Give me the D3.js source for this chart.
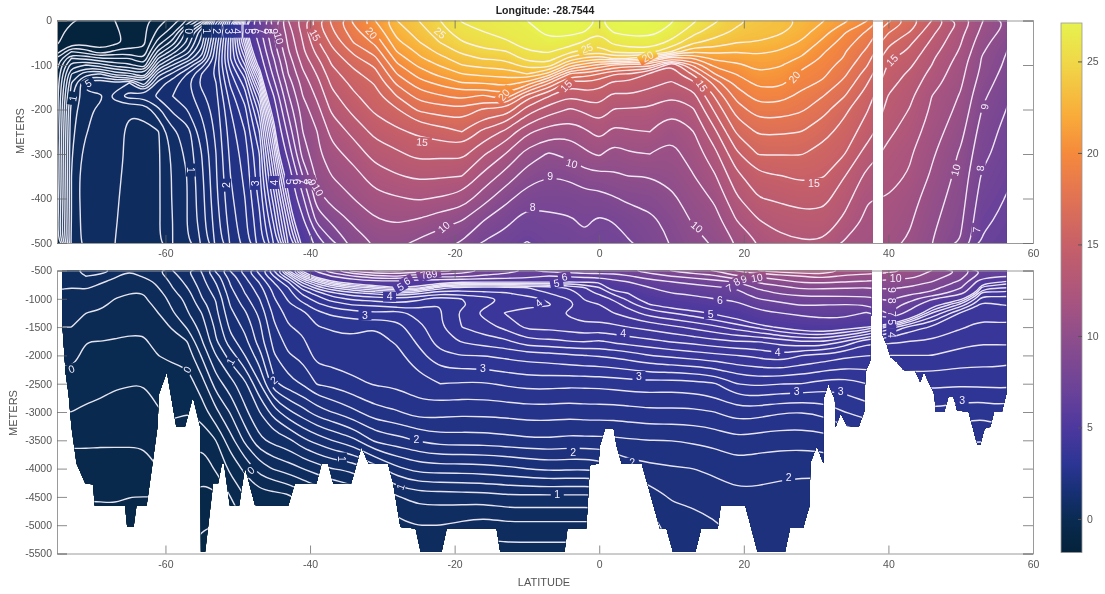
<!DOCTYPE html>
<html>
<head>
<meta charset="utf-8">
<script src="https://cdn.jsdelivr.net/npm/d3@7/dist/d3.min.js"></script>
<style>
  html, body { margin: 0; background: #fff; }
  svg { display: block; filter: blur(0.45px); font-family: "Liberation Sans", Arial, sans-serif; }
</style>
</head>
<body>
<svg id="chart" width="1105" height="594"></svg>
<script>
// section columns, one list of temperatures per latitude
const lats = [-75,-73,-71,-69,-67,-65,-63,-61,-59,-57,-55,-53,-51,-49,-47,-45,-43,-41,-39,-37,-34,-31,-28,-25,-22,-19,-16,-13,-10,-7,-4,-2,0,2,4,7,10,13,16,19,22,25,28,31,34,37,40,43,46,50,53,57];

const upperDepths = [0,25,50,70,85,100,120,140,170,200,250,300,350,400,450,500];
const upperTemp = [
  [-1.9,-1.85,-1.82,-1.7,-1.4,-1.25,-1.2,-1.15,-1.1,-1.1,-1.05,-1,-1,-.95,-.9,-.85],
  [-1.82,-1.75,-1.7,-1.2,-.8,-.5,-.2,0,.15,.3,.35,.38,.4,.4,.4,.45],
  [-1.75,-1.72,-1.7,-1.3,-.85,-.4,.15,.7,.55,.55,.58,.68,.75,.75,.72,.68],
  [-1.7,-1.7,-1.7,-1.55,-1,-.5,.2,.8,.55,.65,.74,.77,.76,.74,.7,.66],
  [-1.6,-1.65,-1.65,-1.35,-1,-.7,-.1,.6,.9,.62,.68,.72,.68,.65,.63,.6],
  [-1.5,-1.5,-1.55,-1.3,-1,-.75,-.15,.8,1.1,.62,.55,.52,.5,.48,.46,.42],
  [-1.45,-1.45,-1.45,-1.35,-1.2,-.95,-.4,.25,1.05,.65,.55,.52,.5,.49,.48,.47],
  [-1.3,-1.15,-.9,-.55,-.2,.15,.7,1.1,1.25,.95,.58,.57,.57,.57,.57,.58],
  [-1.1,-.9,-.5,-.1,.25,.6,1.05,1.3,1.4,1.25,.95,.85,.82,.82,.8,.8],
  [-.8,-.1,.05,.3,.6,1,1.4,1.55,1.5,1.4,1.1,1.05,1,1,1,.98],
  [-.3,.55,.7,.9,1.1,1.5,1.8,1.85,1.75,1.65,1.5,1.4,1.35,1.32,1.3,1.22],
  [1.3,1.7,1.85,1.95,2,2.05,2.05,2,1.95,1.9,1.85,1.8,1.78,1.75,1.7,1.65],
  [2.6,2.9,3,3,3,2.9,2.75,2.65,2.5,2.4,2.3,2.25,2.2,2.15,2.1,2.02],
  [4.6,4.6,4.3,4,3.8,3.6,3.3,3.1,2.9,2.75,2.6,2.5,2.45,2.4,2.35,2.3],
  [7,6.6,6.2,5.8,5.5,5.2,4.7,4.3,3.8,3.5,3.2,3,2.95,2.85,2.75,2.7],
  [9.7,9.1,8.7,8.4,8,7.7,7.3,6.8,6,5.4,4.7,4.3,4,3.7,3.45,3.2],
  [12,11.5,11.2,10.9,10.6,10.3,10,9.5,8.9,8.3,7.3,6.3,5.3,4.9,4.5,4.2],
  [13.6,13.3,13,12.8,12.5,12.2,11.8,11.4,11,10.5,10,9.4,8,6.8,5.8,5.1],
  [15.8,15.4,14.8,14.3,13.9,13.5,13.1,12.7,12.2,11.7,11,10.8,10.3,9.6,8.3,6.3],
  [17.2,16.8,16.2,15.7,15.3,15,14.6,14.2,13.7,13.2,12.3,11.6,11,10.4,9.2,7.8],
  [19.2,18.6,18,17.2,16.7,16.2,15.7,15.3,14.8,14.3,13.3,12.4,11.6,11,10.2,9.4],
  [21,20.1,19.2,18.4,17.8,17.2,16.6,16.1,15.6,15.2,14.3,13.4,12.5,11.7,10.9,10.1],
  [23,22.4,21.7,21,20.4,19.8,19,18.2,17,15.9,14.8,13.8,12.9,11.9,11.1,10.2],
  [24,23.5,22.9,22.2,21.8,21.2,20.4,19.6,18.4,17.2,15.2,14.3,13.2,12.1,10.9,9.8],
  [25,24.6,24,23.3,22.7,22.1,21.3,20.3,18.9,17.5,15.5,14.2,13.1,11.9,10.4,9.3],
  [26.1,25.6,24.9,24.2,23.6,23,22,21,19.3,17.8,16,14.3,13,11.6,10,8.9],
  [26.4,26,25.4,24.8,24.1,23.35,22.3,21,18.8,16.8,14.7,13.1,11.7,10.4,9,7.9],
  [26.7,26.4,25.8,24.9,24.2,23.5,22.4,21.4,19.7,16.8,13.8,12,10.6,9.3,8.3,7.5],
  [27,26.7,26.4,25.9,25.3,24.5,23,20.7,16.5,14.6,12.2,10.6,9.5,8.45,7.5,6.95],
  [27.4,27.2,26.8,26.1,25.5,24.7,21.7,18.2,15.05,13.5,11.5,9.9,9,8.3,7.8,7.4],
  [27.5,27.3,26.5,25.2,23.6,21.4,17.8,15.4,14.05,12.9,11.3,10.3,9.2,8.35,7.9,7.5],
  [27.3,27,25.8,24.6,22.8,20.6,17.6,15.8,14.5,13.2,11.8,10.8,9.6,8.6,8.15,7.8],
  [26.95,26.1,25.4,24.4,22.3,19.7,17,15.5,14.45,13.7,12.4,11.15,9.7,8.6,7.85,7.7],
  [27.4,27.1,26.2,25.2,23.2,19,16,14.8,13.7,12.95,11.7,10.5,9.85,8.9,8.05,7.55],
  [27.5,27.3,26.5,25.5,23,18.5,16,14.8,13.9,12.9,11.9,10.9,10,9.2,8.35,7.9],
  [27.5,27.3,26.6,25.5,22,18.6,14.9,14.3,13.6,12.9,12,11,10,9.3,8.8,8.5],
  [27.1,26.7,25.7,24,19,15,14.4,13.9,13,12.15,11.2,10.7,10.3,9.8,9.3,9.05],
  [26.2,25.4,24.1,22,20,18.2,16.2,14.7,13.6,12.9,11.95,11.4,10.95,10.5,10.1,9.7],
  [25.2,24.4,23.7,22.3,21.3,20.3,19,17.4,16.1,15.2,13.8,12.7,11.9,11.15,10.6,10.1],
  [24.2,23.85,23,22,21.4,20.8,20.05,19.35,18.35,17.5,16.15,14.8,13.7,12.85,12,11.1],
  [23.8,23.4,22.95,22.2,21.75,21.3,20.9,20.3,19.45,18.55,17.15,16.05,14.8,13.95,12.95,12],
  [23.4,23.2,22.5,21.9,21.5,21.1,20.65,20.25,19.4,18.5,17.15,16.05,14.95,14.15,13.4,12.7],
  [22.9,22.45,21.85,21.3,20.85,20.3,19.75,19.35,18.7,18.15,17,16.05,15.2,14.4,13.6,12.9],
  [22.05,21.4,20.7,20.1,19.8,19.5,19.2,18.85,18,17.35,16.35,15.6,15.05,14.3,13.65,12.9],
  [21.2,20.1,19.45,19.05,18.9,18.55,18.15,17.7,17,16.2,15.6,15,14,13.4,12.75,11.85],
  [20.1,18.9,18.3,17.8,17.45,17.1,16.55,16.1,15.5,15.1,14.5,13.55,12.75,12.05,11.8,11.55],
  [18.2,17.1,16.25,15.7,15.2,14.9,14.6,14.35,13.95,13.7,13.2,12.7,12.3,11.95,11.65,11.3],
  [16.8,16,15.15,14.75,14.45,14.15,13.8,13.55,13.2,12.95,12.55,12.1,11.9,11.4,11.1,10.85],
  [15,14.3,13.8,13.4,13.15,13,12.7,12.45,12,11.85,11.5,11.15,10.85,10.5,10.25,10],
  [12.9,12.3,12.05,11.85,11.65,11.45,11.3,11.15,10.9,10.7,10.3,9.85,9.65,9.45,9.2,8.9],
  [11.05,10.75,10.35,10.1,9.9,9.85,9.7,9.5,9.2,8.95,8.55,8.3,7.85,7.5,7.15,6.9],
  [9.7,9.4,8.95,8.8,8.7,8.6,8.4,8.25,7.98,7.8,7.5,7.3,7.05,6.85,6.75,6.65]
];

const lowerDepths = [500,600,700,800,900,1000,1100,1250,1500,1750,2000,2500,3000,3500,4000,4500,5000,5500];
const lowerTemp = [
  [.5,.48,.45,.42,.38,.34,.3,.26,.2,.12,.03,-.06,-.2,-.36,-.5,-.6,-.7,-.8],
  [.55,.5,.45,.4,.37,.33,.3,.27,.2,.13,.04,-.05,-.2,-.36,-.5,-.6,-.7,-.8],
  [.68,.6,.5,.42,.36,.3,.26,.2,.1,0,-.03,-.1,-.24,-.38,-.45,-.58,-.7,-.8],
  [.66,.57,.42,.36,.3,.27,.23,.18,.1,0,-.03,-.12,-.27,-.38,-.46,-.58,-.7,-.8],
  [.58,.42,.36,.3,.25,.2,.17,.12,.05,-.01,-.05,-.18,-.27,-.38,-.46,-.57,-.7,-.8],
  [.41,.34,.28,.22,.2,.17,.14,.1,.03,-.02,-.06,-.19,-.28,-.38,-.46,-.6,-.7,-.8],
  [.47,.42,.32,.26,.2,.18,.14,.1,.03,-.02,-.06,-.2,-.28,-.38,-.46,-.6,-.7,-.8],
  [.58,.5,.44,.4,.33,.28,.25,.2,.12,.06,0,-.1,-.22,-.33,-.4,-.6,-.7,-.8],
  [.8,.72,.65,.6,.55,.48,.44,.38,.22,.12,.02,-.05,-.15,-.3,-.4,-.6,-.7,-.8],
  [.98,.92,.86,.8,.72,.66,.63,.58,.42,.2,.08,-.1,-.2,-.33,-.42,-.6,-.7,-.8],
  [1.22,1.16,1.12,1.07,1.03,.98,.9,.8,.68,.58,.42,.1,-.1,-.37,-.52,-.68,-.79,-.85],
  [1.65,1.5,1.42,1.35,1.28,1.22,1.19,1.15,1.05,.98,.8,.5,.15,-.2,-.37,-.65,-.8,-.85],
  [2.02,1.9,1.83,1.78,1.72,1.67,1.62,1.55,1.45,1.32,1.1,.72,.42,.12,-.15,-.4,-.6,-.8],
  [2.3,2.2,2.12,2.05,2,1.93,1.87,1.77,1.65,1.54,1.4,.95,.75,.45,.05,-.2,-.4,-.6],
  [2.7,2.55,2.42,2.33,2.26,2.2,2.14,2.05,1.95,1.9,1.72,1.38,1,.75,.28,-.1,-.3,-.5],
  [3.2,3,2.82,2.7,2.63,2.58,2.53,2.45,2.36,2.27,2.18,1.95,1.3,.87,.42,-.1,-.3,-.5],
  [4.2,3.6,3.2,3,2.9,2.83,2.76,2.68,2.58,2.48,2.38,2.12,1.55,.95,.5,-.05,-.2,-.4],
  [5.1,4.5,3.9,3.5,3.25,3.1,2.95,2.75,2.65,2.57,2.46,2.22,1.72,1.15,.6,.1,-.1,-.3],
  [6.3,5.2,4.4,3.9,3.5,3.3,3.15,2.95,2.79,2.74,2.68,2.42,1.9,1.28,.7,.2,0,-.2],
  [7.8,6,4.9,4.2,3.75,3.5,3.3,3.05,2.82,2.75,2.7,2.45,2,1.4,.8,.3,.1,-.1],
  [9.4,7,5.3,4.5,3.95,3.65,3.42,3.12,2.85,2.77,2.72,2.55,2.15,1.55,.85,.4,.2,0],
  [10.1,7.8,5.6,4.7,4.05,3.7,3.45,3.18,2.8,2.75,2.7,2.62,2.33,1.85,1.1,.6,.3,.1],
  [10.2,8,5.7,5,4.2,3.75,3.55,3.1,2.93,2.82,2.74,2.64,2.38,1.92,1.35,.78,.55,.4],
  [9.8,7.2,5.4,4.9,4.05,3.65,3.5,3.3,3.12,3.04,2.93,2.72,2.5,2.02,1.48,.88,.6,.4],
  [9.3,7.3,5.2,4.3,3.85,3.5,3.4,3.38,3.38,3.3,3.15,2.8,2.47,2.1,1.5,.88,.6,.4],
  [8.9,7.2,5.05,4.15,3.9,3.6,3.55,3.65,3.6,3.42,3.2,2.78,2.45,2.1,1.5,.9,.55,.35],
  [7.9,6.8,5.05,4.15,3.95,3.7,3.75,3.85,3.72,3.5,3.2,2.78,2.46,2.1,1.52,.9,.5,.3],
  [7.5,6.6,5.05,4.15,3.98,3.85,3.9,4.01,3.85,3.55,3.25,2.83,2.47,2.13,1.55,.95,.55,.3],
  [6.95,6.4,5.05,4.2,4.1,3.9,3.95,4.08,4.05,3.75,3.3,2.87,2.5,2.16,1.6,.95,.55,.3],
  [7.4,5.95,5.05,4.3,4.2,4.05,3.98,4.08,4.05,3.75,3.32,2.87,2.5,2.17,1.65,.95,.55,.3],
  [7.5,6.15,5,4.45,4.3,4.22,4.15,4.25,4.1,3.8,3.38,2.85,2.48,2.14,1.63,.95,.55,.3],
  [7.8,6.3,5.05,4.6,4.5,4.42,4.35,4.3,4.15,3.82,3.4,2.86,2.5,2.15,1.63,.95,.55,.3],
  [7.7,6.4,5,4.8,4.65,4.45,4.4,4.33,4.12,3.78,3.42,2.86,2.5,2.15,1.65,.95,.55,.3],
  [7.55,6.6,5.7,5.2,4.85,4.65,4.5,4.4,4.15,3.85,3.45,2.88,2.5,2.16,1.8,1.2,.8,.5],
  [7.9,6.9,6,5.4,5,4.85,4.7,4.5,4.2,3.9,3.5,2.9,2.52,2.18,1.9,1.45,1,.8],
  [8.5,7.5,6.6,6,5.6,5.2,5,4.7,4.27,3.95,3.6,2.92,2.55,2.2,1.95,1.7,1.5,1.3],
  [9.05,8,7,6.4,6,5.5,5.15,4.8,4.35,4.02,3.65,2.9,2.55,2.2,1.98,1.82,1.7,1.6],
  [9.7,8.4,7.3,6.6,6.2,5.7,5.3,4.9,4.45,4.07,3.7,2.93,2.55,2.23,2,1.85,1.72,1.65],
  [10.1,8.8,7.6,6.9,6.4,6,5.5,5.05,4.55,4.15,3.75,2.98,2.6,2.26,2.04,1.9,1.78,1.7],
  [11.1,9.9,8.1,7.1,6.7,6.2,5.8,5.2,4.7,4.2,3.8,3.2,2.7,2.35,2.1,1.95,1.85,1.8],
  [12,10.2,9.2,8.2,7.6,7,6.4,5.75,4.85,4.2,3.85,3.25,2.68,2.3,2.08,1.95,1.85,1.8],
  [12.7,10.5,9.7,8.7,8.1,7.3,6.8,6,5.05,4.3,3.95,3.2,2.62,2.28,2.06,1.92,1.85,1.8],
  [12.9,11,10.1,9.2,8.4,7.6,7.1,6.2,5.2,4.4,3.8,3.2,2.6,2.28,2.05,1.9,1.85,1.8],
  [12.9,11.4,10.2,9.2,8.4,7.7,7.05,6.4,5.3,4.4,3.75,3.12,2.65,2.3,2.05,1.9,1.85,1.8],
  [11.85,10.8,10,9.1,8.4,7.7,7,6.4,5.15,4.2,3.65,3.1,2.8,2.4,2.1,1.9,1.85,1.8],
  [11.55,10.7,9.9,9,8.3,7.8,7.05,5.9,5,3.85,3.6,3.2,2.9,2.5,2.2,2,1.9,1.8],
  [11.3,10.6,9.7,9.2,8.6,8.2,7.6,7.1,4.55,3.85,3.6,3.25,2.95,2.6,2.3,2,1.9,1.8],
  [10.85,10.3,9.6,8.9,8.2,7.4,6.6,5.6,4.1,3.8,3.6,3.25,2.95,2.65,2.3,2,1.9,1.8],
  [10,9.6,9,8.4,7.8,6.1,5.2,4.6,3.98,3.78,3.6,3.25,2.95,2.65,2.3,2,1.9,1.8],
  [8.9,8.4,7.8,7.1,6.3,5.1,4.55,3.98,3.82,3.67,3.53,3.23,2.9,2.65,2.3,2,1.9,1.8],
  [6.9,6.4,5.2,4.7,4.3,4.1,3.95,3.85,3.75,3.62,3.5,3.25,2.85,2.6,2.3,2,1.9,1.8],
  [6.65,6,4.9,4.6,4.35,4.15,4.03,3.9,3.78,3.65,3.5,3.25,2.95,2.7,2.3,2,1.9,1.8]
];

// outline of the water in the lower panel, land is left white
const seafloorLat = [-74.3,-74.3,-73.8,-73.4,-73,-72.3,-71.1,-70,-69.8,-65.6,-65.3,-64.4,-64,-62.6,-61.8,-61.1,-60.9,-59.8,-58.5,-57.3,-56.2,-55.2,-55.1,-54.5,-53.4,-52.7,-52.2,-51.9,-51.1,-49.8,-49,-47.6,-43,-42.1,-39.1,-38.4,-37.5,-36.8,-34.3,-32.9,-31.9,-29.2,-28.5,-27.5,-25.4,-24.7,-21.8,-21.1,-14.2,-13.7,-4.8,-4.4,-1.8,-1.6,-1.3,-.1,.1,.8,2,2.4,3.1,5.9,8.4,9.3,10.2,13.3,14.1,16.4,16.8,20.2,21.9,25.7,26.4,28.2,29.1,29.2,30.1,31,31,31.7,32.6,32.7,33.4,34.3,35.9,36.7,36.8,37.5,37.7,39.2,39.2,39.8,40.3,41.2,42.1,43.7,44.4,44.9,45.8,46.4,46.5,47.7,48.3,49,49.5,51.1,52.3,52.7,53.3,54.1,54.6,55.7,56.3,56.3];
const seafloorDepth = [500,1380,2320,2680,3260,3910,4260,4280,4650,4650,5030,5030,4650,4650,3920,3260,2680,2290,3260,3260,2735,3260,5470,5470,4260,4260,3910,3910,4650,4650,3970,4650,4650,4260,4260,3910,3910,4260,4260,3620,3910,3920,4260,5030,5060,5470,5470,5060,5060,5470,5470,5060,5060,4650,3940,3910,3590,3290,3290,3590,3910,3920,5060,5060,5470,5470,5060,5060,4650,4650,5470,5470,5050,5050,4650,3900,3600,3900,2780,2500,2780,3260,3020,3260,3260,2970,2300,2090,500,500,1640,1820,2030,2120,2260,2270,2470,2290,2530,2700,3000,3000,2730,2730,2970,3000,3580,3580,3290,3260,3000,3000,2680,500];

// missing column near 38N in the upper panel, and the east end of the section
const upperGapLat = [37.8, 39.3];
const upperEndLat = 56.3;

const latTicks = [-60,-40,-20,0,20,40,60];
const upperDepthTicks = [0,100,200,300,400,500];
const lowerDepthTicks = [500,1000,1500,2000,2500,3000,3500,4000,4500,5000,5500];
const barTicks = [0,5,10,15,20,25];

const colorTemps = [-1.84,0,1.5,3,5,7,10,12,15,18,20,22,25,27.1];
const colorHexes = ["#04223a","#0a2b52","#173075","#2c3594","#4d389e","#6a4299","#8f4e8b","#a9547f","#c76068","#e67650","#f58a3c","#f9ab3a","#f0d848","#e6f24e"];

// lat, depth, text, rotation
const upperLabels = [
  [-56.8,24,"0",90],[-54.3,24,"1",90],[-52.9,24,"2",90],[-51.3,24,"3",90],[-50.2,24,"4",90],
  [-48.5,24,"5",90],[-47.6,24,"6",90],[-46.7,24,"7",90],[-45.8,24,"8",90],[-45,24,"9",90],
  [-44.3,40,"10",75],[-39.3,33,"15",60],[-70.7,141,"5",-30],[-72.8,175,"1",-80],
  [-56.5,336,"1",90],[-51.6,370,"2",-90],[-47.6,366,"3",-90],[-45,364,"4",-90],[-42.8,362,"5",90],
  [-41.9,362,"6",90],[-41,362,"7",90],[-40.3,362,"8",80],[-39.7,364,"9",70],[-38.9,381,"10",60],
  [-31.5,28,"20",50],[-22,28,"25",40],[-1.7,62,"25",-20],[6.7,81,"20",-30],[-4.6,147,"15",-45],
  [-13.2,167,"20",-50],[-24.5,273,"15",5],[-3.8,321,"10",15],[-6.8,351,"9",0],[-9.2,420,"8",0],
  [-21.5,464,"10",-40],[13.5,464,"10",40],[14.2,147,"15",55],[27,127,"20",-50],[29.7,365,"15",0],
  [40.5,89,"15",-45],[49.3,336,"10",-75],[53.3,194,"9",-80],[52.7,332,"8",-85],[52.2,470,"7",-85]
];
const lowerLabels = [
  [-73,2240,"0",-20],[-57,2250,"0",-60],[-48.2,4030,"0",-40],[-51,2110,"1",-60],[-45,2435,"2",-40],
  [-35.6,3830,"1",90],[-32.4,1286,"3",0],[-29,963,"4",0],[-27.5,786,"5",-30],[-26.6,685,"6",-30],
  [-24.3,580,"7",-20],[-23.6,570,"8",-20],[-22.8,553,"9",-10],[-16.1,2223,"3",0],[5.5,2364,"3",0],
  [-25.3,3478,"2",0],[-3.6,3706,"2",0],[-5.8,4448,"1",0],[-27.5,4320,"1",-70],[4.6,3878,"2",-10],
  [26.2,4150,"2",0],[27.3,2630,"3",0],[33.4,2630,"3",0],[50.2,2790,"3",0],[3.3,1600,"4",0],
  [24.7,1943,"4",0],[-8.4,1075,"4",-40],[-5.9,720,"5",-10],[-4.8,610,"6",-10],[15.4,1270,"5",0],
  [16.7,1020,"6",0],[18,810,"7",-30],[19,700,"8",-30],[20,650,"9",-20],[21.8,630,"10",-10],
  [41,630,"10",0],[40.4,845,"9",90],[40.4,1033,"8",90],[40.4,1268,"7",90],[40.4,1415,"5",90],[40.4,1639,"4",90]
];

const svg = d3.select("#chart");
const axisColor = "#9a9a9a";
const textColor = "#555";

const x = d3.scaleLinear().domain([-75, 60]).range([57, 1033]);
const yUpper = d3.scaleLinear().domain([0, 500]).range([20.5, 243]);
const yLower = d3.scaleLinear().domain([500, 5500]).range([270.5, 553.5]);
const color = d3.scaleLinear().domain(colorTemps).range(colorHexes);

// line every 0.2 up to 5, then every degree, as in the original
const lineLevels = d3.range(-1.8, 4.9, 0.2).map(d => +d.toFixed(1)).concat(d3.range(5, 28));
const fillLevels = d3.range(-2, 27.6, 0.2);

const defs = svg.append("defs");

function ringPath(contour, depths) {
    // d3.contours works in grid index space, samples sit at i + 0.5
    const latAt = d3.scaleLinear().domain(d3.range(lats.length)).range(lats);
    const depthAt = d3.scaleLinear().domain(d3.range(depths.length)).range(depths);
    const y = depths === upperDepths ? yUpper : yLower;
    const line = d3.line().curve(d3.curveBasisClosed);
    return contour.coordinates.map(poly => poly.map(ring =>
        line(ring.slice(0, -1).map(p => [x(latAt(p[0] - 0.5)), y(depthAt(p[1] - 0.5))]))
    ).join("")).join("");
}

function drawPanel(name, depths, temp, y, labels) {
    const values = [];
    depths.forEach((d, j) => lats.forEach((l, i) => values.push(temp[i][j])));
    const contours = d3.contours().size([lats.length, depths.length]);

    const panel = svg.append("g").attr("clip-path", `url(#clip-${name})`);

    panel.append("g").selectAll("path")
        .data(contours.thresholds(fillLevels)(values))
        .enter().append("path")
        .attr("fill", d => color(d.value + 0.1))
        .attr("fill-rule", "evenodd")
        .attr("d", d => ringPath(d, depths));

    // labels cut a hole in the lines
    const mask = defs.append("mask").attr("id", `mask-${name}`)
        .attr("maskUnits", "userSpaceOnUse")
        .attr("x", 0).attr("y", 0).attr("width", 1105).attr("height", 594);
    mask.append("rect").attr("width", 1105).attr("height", 594).attr("fill", "#fff");
    mask.selectAll("rect.hole").data(labels).enter().append("rect")
        .attr("class", "hole")
        .attr("x", d => -3.5 - 3 * d[2].length).attr("y", -5)
        .attr("width", d => 7 + 6 * d[2].length).attr("height", 10)
        .attr("fill", "#000")
        .attr("transform", d => `translate(${x(d[0])},${y(d[1])}) rotate(${d[3]})`);

    panel.append("g").attr("mask", `url(#mask-${name})`)
        .selectAll("path")
        .data(contours.thresholds(lineLevels)(values))
        .enter().append("path")
        .attr("fill", "none")
        .attr("stroke", "#f8f4fd")
        .attr("stroke-opacity", 0.92)
        .attr("stroke-width", 1.4)
        .attr("d", d => ringPath(d, depths));

    panel.append("g").selectAll("text")
        .data(labels).enter().append("text")
        .attr("transform", d => `translate(${x(d[0])},${y(d[1])}) rotate(${d[3]})`)
        .attr("text-anchor", "middle")
        .attr("dy", "0.36em")
        .attr("font-size", 10.5)
        .attr("fill", "#f4eefb")
        .text(d => d[2]);
}

function drawFrame(y, ticks, negate) {
    const top = y.range()[0], bottom = y.range()[1];
    const frame = svg.append("g");
    const style = g => {
        g.selectAll("path.domain").attr("stroke", axisColor);
        g.selectAll("line").attr("stroke", "#666").attr("stroke-opacity", 0.75);
        g.selectAll("text").attr("fill", textColor).attr("font-size", 10.5).attr("font-family", "inherit");
    };
    const fmt = d => (negate && d !== 0) ? "-" + d : String(d);

    frame.append("g").attr("transform", `translate(0,${bottom})`)
        .call(d3.axisBottom(x).tickValues(latTicks).tickSize(-8).tickPadding(7).tickFormat(String)).call(style);
    frame.append("g").attr("transform", `translate(0,${top})`)
        .call(d3.axisTop(x).tickValues(latTicks).tickSize(-8).tickFormat("")).call(style);
    frame.append("g").attr("transform", `translate(${x.range()[0]},0)`)
        .call(d3.axisLeft(y).tickValues(ticks).tickSize(-10).tickPadding(5).tickFormat(fmt)).call(style);
    frame.append("g").attr("transform", `translate(${x.range()[1]},0)`)
        .call(d3.axisRight(y).tickValues(ticks).tickSize(-10).tickFormat("")).call(style);
}

// clip shapes
const clipUpper = defs.append("clipPath").attr("id", "clip-upper");
[[-75, upperGapLat[0]], [upperGapLat[1], upperEndLat]].forEach(r => {
    clipUpper.append("rect")
        .attr("x", x(r[0])).attr("y", yUpper(0))
        .attr("width", x(r[1]) - x(r[0])).attr("height", yUpper(500) - yUpper(0));
});
defs.append("clipPath").attr("id", "clip-lower").append("path")
    .attr("d", d3.line().x(d => x(d[0])).y(d => yLower(d[1]))(d3.zip(seafloorLat, seafloorDepth)) + "Z");

drawPanel("upper", upperDepths, upperTemp, yUpper, upperLabels);
drawPanel("lower", lowerDepths, lowerTemp, yLower, lowerLabels);
drawFrame(yUpper, upperDepthTicks, true);
drawFrame(yLower, lowerDepthTicks, true);

// colorbar
const barY = d3.scaleLinear().domain([-1.84, 27.1]).range([552.6, 23]);
const grad = defs.append("linearGradient").attr("id", "bar-gradient")
    .attr("x1", 0).attr("x2", 0).attr("y1", 1).attr("y2", 0);
grad.selectAll("stop").data(colorTemps).enter().append("stop")
    .attr("offset", d => (d + 1.84) / (27.1 + 1.84))
    .attr("stop-color", d => color(d));
svg.append("rect")
    .attr("x", 1061).attr("y", barY(27.1))
    .attr("width", 21).attr("height", barY(-1.84) - barY(27.1))
    .attr("fill", "url(#bar-gradient)")
    .attr("stroke", axisColor).attr("stroke-width", 0.8);
svg.append("g").attr("transform", "translate(1082,0)")
    .call(d3.axisRight(barY).tickValues(barTicks).tickSize(-4).tickPadding(5).tickFormat(String))
    .call(g => {
        g.select("path.domain").remove();
        g.selectAll("line").attr("stroke", "#555");
        g.selectAll("text").attr("fill", textColor).attr("font-size", 10.5).attr("font-family", "inherit");
    });

// titles
svg.append("text").attr("x", 545).attr("y", 14).attr("text-anchor", "middle")
    .attr("font-size", 10.5).attr("font-weight", "bold").attr("fill", "#222")
    .text("Longitude: -28.7544");
svg.append("text").attr("x", 544).attr("y", 586).attr("text-anchor", "middle")
    .attr("font-size", 11).attr("fill", textColor).text("LATITUDE");
svg.append("text").attr("transform", "translate(24,131) rotate(-90)").attr("text-anchor", "middle")
    .attr("font-size", 11).attr("fill", textColor).text("METERS");
svg.append("text").attr("transform", "translate(17,413) rotate(-90)").attr("text-anchor", "middle")
    .attr("font-size", 11).attr("fill", textColor).text("METERS");
</script>
</body>
</html>
